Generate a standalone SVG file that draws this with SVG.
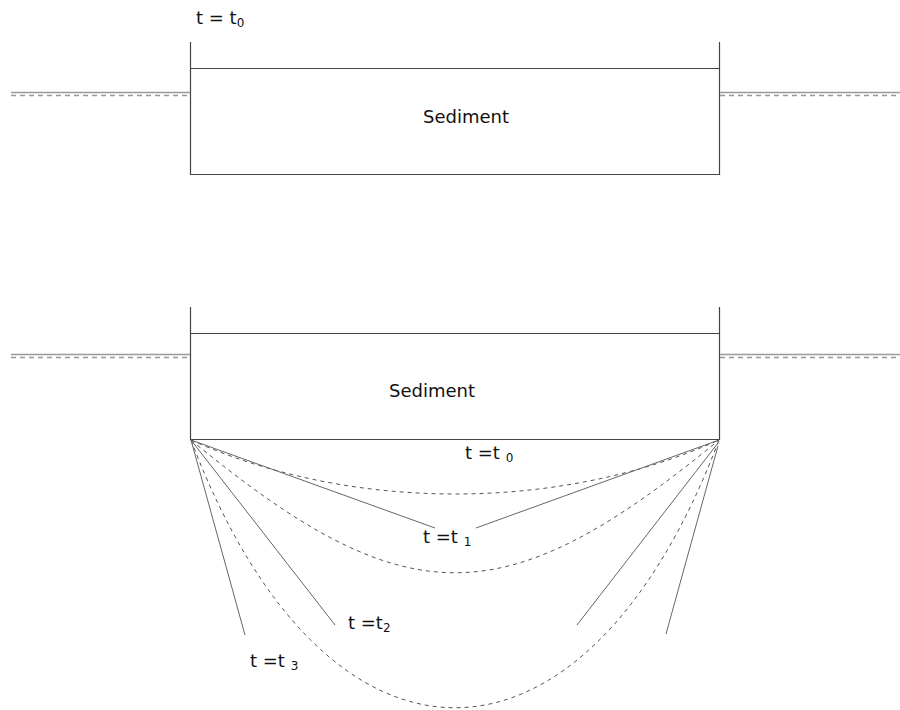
<svg xmlns="http://www.w3.org/2000/svg" width="900" height="710" viewBox="0 0 900 710">
<style>
.ln{stroke:#444;stroke-width:1.2;fill:none}
.th{stroke:#666;stroke-width:1;fill:none}
.ws{stroke:#999;stroke-width:1.5;fill:none}
.wd{stroke:#999;stroke-width:1.5;fill:none;stroke-dasharray:5,4}
.dc{stroke:#555;stroke-width:1;fill:none;stroke-dasharray:4,4}
.tx{font-family:"DejaVu Sans",Verdana,sans-serif;font-size:18px;fill:#111}
.sb{font-size:12px}
</style>
<rect width="900" height="710" fill="#fff"/>
<g id="top-panel">
  <path class="ln" d="M190.5,42 V174.5 H719.5 V42 M190.5,68.5 H719.5"/>
  <path class="ws" d="M11,92.5 H190 M720,92.5 H900"/>
  <path class="wd" d="M11,95.5 H190 M720,95.5 H900"/>
  <text class="tx" x="466" y="123" text-anchor="middle">Sediment</text>
  <text class="tx" x="196" y="24">t = t<tspan class="sb" dy="3">0</tspan></text>
</g>
<g id="bottom-panel">
  <path class="ln" d="M190.5,307 V439.5 H719.5 V307 M190.5,333.5 H719.5"/>
  <path class="ws" d="M11,354.5 H190 M720,354.5 H900"/>
  <path class="wd" d="M11,357.5 H190 M720,357.5 H900"/>
  <text class="tx" x="432" y="397" text-anchor="middle">Sediment</text>
</g>
<g id="connectors">
  <path class="dc" d="M191,440 C351,512 559,512 719,440"/>
  <path class="dc" d="M191,440 C406,617 504,617 719,440"/>
  <path class="dc" d="M191,440 C326,797 584,797 719,440"/>
  <path class="th" d="M191,440 L435,528 M476,528 L719,440"/>
  <path class="th" d="M191,440 L335,625 M577,625 L718,443"/>
  <path class="th" d="M191,440 L245,635 M666,634 L718,446"/>
</g>
<g id="labels">
  <text class="tx" x="465" y="459">t =t <tspan class="sb" dy="3">0</tspan></text>
  <text class="tx" x="423" y="543">t =t <tspan class="sb" dy="3">1</tspan></text>
  <text class="tx" x="348" y="629">t =t<tspan class="sb" dy="3">2</tspan></text>
  <text class="tx" x="250" y="667">t =t <tspan class="sb" dy="3">3</tspan></text>
</g>
</svg>
